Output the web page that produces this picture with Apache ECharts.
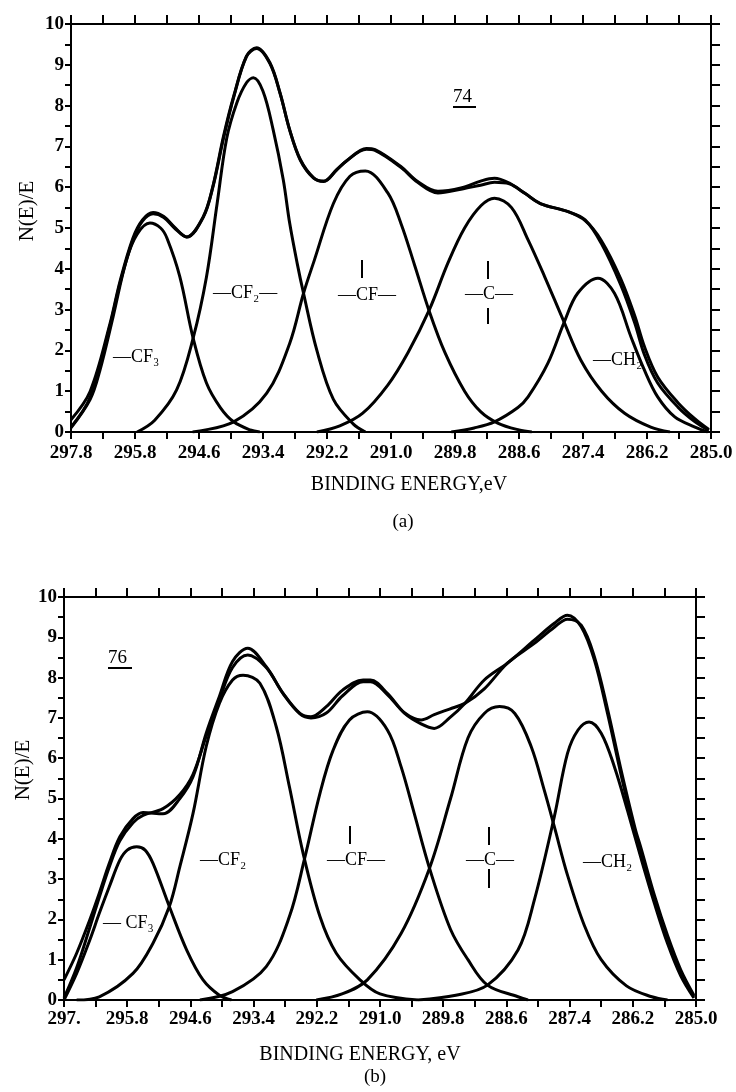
<!DOCTYPE html>
<html>
<head>
<meta charset="utf-8">
<script src="https://cdn.jsdelivr.net/npm/echarts@6/dist/echarts.min.js"></script>
<style>
html, body { margin: 0; padding: 0; background: #fff; }
#chart { width: 736px; height: 1092px; }
</style>
</head>
<body>
<div id="chart"></div>
<script>
// energy axis: tick positions (eV) and the labels printed under them
var tickEnergies = [297.0, 295.8, 294.6, 293.4, 292.2, 291.0, 289.8, 288.6, 287.4, 286.2, 285.0];
var tickLabelsA = ['297.8', '295.8', '294.6', '293.4', '292.2', '291.0', '289.8', '288.6', '287.4', '286.2', '285.0'];
var tickLabelsB = ['297.', '295.8', '294.6', '293.4', '292.2', '291.0', '289.8', '288.6', '287.4', '286.2', '285.0'];

// (a) sample 74 : [binding energy eV, N(E)/E]
var measuredA = [[297.0,0.3],[296.64,1.0],[296.27,2.65],[296.08,3.7],[295.84,4.75],[295.66,5.2],[295.46,5.38],[295.26,5.28],[295.06,5.02],[294.83,4.78],[294.52,5.28],[294.34,6.02],[294.14,7.25],[293.95,8.23],[293.71,9.21],[293.52,9.42],[293.27,9.05],[293.08,8.31],[292.90,7.41],[292.70,6.68],[292.45,6.23],[292.26,6.15],[292.02,6.43],[291.83,6.65],[291.46,6.95],[291.30,6.92],[290.81,6.5],[290.50,6.14],[290.12,5.9],[289.69,5.98],[289.32,6.15],[289.06,6.22],[288.78,6.1],[288.49,5.85],[288.20,5.6],[287.68,5.4],[287.36,5.2],[287.06,4.63],[286.69,3.6],[286.43,2.67],[286.25,1.9],[286.00,1.2],[285.62,0.61],[285.30,0.25],[285.04,0.04]];
var fitA = [[297.0,0.12],[296.64,0.85],[296.27,2.6],[296.08,3.65],[295.84,4.7],[295.66,5.17],[295.46,5.35],[295.26,5.26],[295.06,5.0],[294.83,4.78],[294.52,5.26],[294.34,6.0],[294.14,7.2],[293.95,8.2],[293.71,9.2],[293.52,9.4],[293.27,9.03],[293.08,8.3],[292.90,7.4],[292.70,6.66],[292.45,6.22],[292.26,6.14],[292.02,6.42],[291.83,6.65],[291.46,6.93],[291.30,6.9],[290.81,6.48],[290.50,6.12],[290.12,5.86],[289.69,5.95],[289.32,6.05],[289.06,6.12],[288.78,6.08],[288.49,5.85],[288.20,5.6],[287.68,5.4],[287.36,5.18],[287.06,4.7],[286.69,3.75],[286.43,2.85],[286.25,2.1],[286.00,1.35],[285.62,0.72],[285.30,0.32],[285.04,0.06]];
var cf3A = [[297.0,0.1],[296.64,0.8],[296.46,1.5],[296.21,2.83],[295.96,4.22],[295.76,4.85],[295.52,5.12],[295.32,5.0],[295.2,4.75],[294.96,3.81],[294.71,2.3],[294.46,1.2],[294.20,0.6],[293.95,0.25],[293.64,0.05],[293.46,0]];
var cf2A = [[295.76,0],[295.43,0.29],[295.02,1.03],[294.71,2.3],[294.46,3.8],[294.26,5.6],[294.08,7.2],[293.89,8.07],[293.71,8.56],[293.58,8.68],[293.4,8.35],[293.21,7.41],[293.02,6.18],[292.90,5.12],[292.76,4.14],[292.64,3.4],[292.39,2.0],[292.08,0.8],[291.71,0.2],[291.48,0]];
var cfA = [[294.72,0],[293.95,0.25],[293.33,0.95],[292.90,2.17],[292.64,3.4],[292.44,4.2],[292.08,5.6],[291.77,6.27],[291.48,6.4],[291.06,5.86],[290.81,5.1],[290.56,4.1],[290.28,2.95],[289.99,1.95],[289.62,1.0],[289.32,0.5],[289.0,0.22],[288.6,0.05],[288.36,0]];
var cA = [[292.39,0],[291.96,0.15],[291.53,0.46],[291.06,1.15],[290.68,1.95],[290.28,3.0],[289.93,4.15],[289.62,5.0],[289.31,5.55],[289.06,5.73],[288.74,5.5],[288.43,4.71],[288.12,3.81],[287.77,2.74],[287.44,1.76],[287.05,1.0],[286.62,0.46],[286.13,0.12],[285.77,0]];
var ch2A = [[289.87,0],[289.44,0.1],[289.06,0.25],[288.62,0.6],[288.43,0.86],[288.06,1.68],[287.75,2.7],[287.50,3.4],[287.12,3.77],[286.81,3.4],[286.5,2.33],[286.25,1.52],[286.0,0.86],[285.68,0.37],[285.3,0.12],[285.06,0]];

// (b) sample 76
var measuredB = [[297.0,0.5],[296.76,1.16],[296.51,1.99],[296.33,2.65],[296.14,3.39],[295.94,4.05],[295.69,4.5],[295.5,4.65],[295.12,4.62],[294.80,5.0],[294.55,5.54],[294.3,6.62],[294.05,7.53],[293.8,8.4],[293.51,8.73],[293.16,8.27],[292.84,7.61],[292.52,7.11],[292.31,7.03],[292.02,7.28],[291.71,7.69],[291.32,7.94],[291.18,7.94],[290.86,7.61],[290.53,7.11],[290.22,6.85],[289.97,6.74],[289.68,7.0],[289.39,7.36],[289.02,7.94],[288.58,8.36],[288.07,8.93],[287.69,9.35],[287.44,9.55],[287.18,9.26],[286.93,8.44],[286.68,7.11],[286.43,5.63],[286.16,4.14],[286.04,3.64],[285.79,2.48],[285.54,1.49],[285.29,0.66],[285.04,0.08]];
var fitB = [[297.0,0.05],[296.76,0.8],[296.51,1.8],[296.33,2.55],[296.14,3.3],[295.94,3.95],[295.69,4.4],[295.5,4.58],[295.12,4.75],[294.80,5.1],[294.55,5.6],[294.3,6.55],[294.05,7.45],[293.8,8.25],[293.51,8.56],[293.16,8.25],[292.84,7.6],[292.52,7.1],[292.31,7.0],[292.02,7.12],[291.71,7.55],[291.32,7.9],[291.18,7.9],[290.86,7.58],[290.53,7.12],[290.22,6.95],[289.97,7.08],[289.68,7.22],[289.39,7.36],[289.02,7.72],[288.58,8.36],[288.07,8.85],[287.69,9.25],[287.44,9.45],[287.18,9.3],[286.93,8.52],[286.68,7.22],[286.43,5.75],[286.16,4.28],[286.04,3.75],[285.79,2.6],[285.54,1.6],[285.29,0.75],[285.04,0.12]];
var cf3B = [[297.0,0],[296.76,0.66],[296.51,1.49],[296.33,2.15],[296.14,2.81],[295.94,3.47],[295.8,3.72],[295.62,3.8],[295.46,3.72],[295.31,3.39],[295.0,2.32],[294.67,1.24],[294.36,0.5],[294.05,0.12],[293.82,0]];
var cf2B = [[296.76,0],[296.33,0.08],[295.69,0.66],[295.31,1.41],[295.0,2.32],[294.80,3.31],[294.55,4.63],[294.3,6.29],[294.05,7.36],[293.8,7.94],[293.6,8.06],[293.28,7.86],[292.97,6.78],[292.72,5.29],[292.46,3.64],[292.14,2.07],[291.83,1.16],[291.38,0.5],[291.0,0.15],[290.28,0]];
var cfB = [[294.42,0],[293.8,0.21],[293.16,0.83],[292.72,2.07],[292.43,3.52],[292.14,5.13],[291.89,6.2],[291.58,6.95],[291.24,7.15],[290.86,6.7],[290.60,5.79],[290.35,4.63],[290.06,3.27],[289.66,1.75],[289.33,1.0],[288.96,0.37],[288.38,0.08],[288.19,0]];
var cB = [[292.21,0],[291.72,0.15],[291.24,0.5],[290.60,1.65],[290.06,3.27],[289.66,5.0],[289.33,6.5],[289.02,7.11],[288.73,7.28],[288.44,7.11],[288.13,6.29],[287.88,5.2],[287.69,4.3],[287.44,3.1],[287.12,1.85],[286.8,1.0],[286.32,0.35],[285.84,0.08],[285.54,0]];
var ch2B = [[290.28,0],[289.56,0.12],[288.96,0.37],[288.38,1.24],[288.07,2.48],[287.69,4.55],[287.44,6.12],[287.24,6.7],[287.03,6.9],[286.8,6.62],[286.55,5.79],[286.30,4.7],[286.04,3.5],[285.79,2.4],[285.54,1.4],[285.29,0.6],[285.04,0.05]];

var chart = echarts.init(document.getElementById('chart'));
var FONT = '"Liberation Serif", "DejaVu Serif", serif';

// every tick on the energy axis: the labelled ones plus the midpoints
var allTicks = [];
for (var i = 0; i < tickEnergies.length; i++) {
    allTicks.push(tickEnergies[i]);
    if (i < tickEnergies.length - 1) allTicks.push((tickEnergies[i] + tickEnergies[i + 1]) / 2);
}

function labelFor(labels) {
    return function (v) {
        for (var k = 0; k < tickEnergies.length; k++) {
            if (Math.abs(tickEnergies[k] - v) < 1e-6) return labels[k];
        }
        return '';
    };
}

function energyAxis(grid, pos, labels, tickLen, margin) {
    return {
        gridIndex: grid, type: 'value', position: pos,
        min: 285, max: 297, inverse: true,
        axisLine: { show: true, onZero: false, lineStyle: { color: '#000', width: 2 } },
        axisTick: { show: true, inside: false, customValues: allTicks, length: tickLen, lineStyle: { color: '#000', width: 2 } },
        axisLabel: labels ? {
            customValues: tickEnergies, formatter: labelFor(labels),
            color: '#000', fontFamily: FONT, fontSize: 19, fontWeight: 'bold', margin: margin
        } : { show: false },
        splitLine: { show: false }
    };
}

function countAxis(grid, pos, showLabels, tickLen) {
    return {
        gridIndex: grid, type: 'value', position: pos,
        min: 0, max: 10, interval: 0.5,
        axisLine: { show: true, onZero: false, lineStyle: { color: '#000', width: 2 } },
        axisTick: { show: true, inside: false, length: tickLen, lineStyle: { color: '#000', width: 2 } },
        axisLabel: showLabels ? {
            formatter: function (v) { return v % 1 === 0 ? String(v) : ''; },
            color: '#000', fontFamily: FONT, fontSize: 19, fontWeight: 'bold', margin: 7
        } : { show: false },
        splitLine: { show: false }
    };
}

function curve(data, xi, yi) {
    return {
        type: 'line', data: data, xAxisIndex: xi, yAxisIndex: yi,
        smooth: 0.35, showSymbol: false, silent: true,
        lineStyle: { color: '#000', width: 3 }
    };
}

function txt(x, y, s, size, align) {
    return {
        type: 'text', x: x, y: y, silent: true,
        style: {
            text: s, fill: '#000', font: (size || 18) + 'px ' + FONT,
            textAlign: align || 'left', textVerticalAlign: 'middle',
            align: align || 'left', verticalAlign: 'middle'
        }
    };
}

function bar(x1, y1, x2, y2) {
    return { type: 'line', silent: true, shape: { x1: x1, y1: y1, x2: x2, y2: y2 }, style: { stroke: '#000', lineWidth: 2 } };
}

var option = {
    backgroundColor: '#fff',
    animation: false,
    grid: [
        { left: 71, top: 24, width: 640, height: 408 },
        { left: 64, top: 597, width: 632, height: 403 }
    ],
    xAxis: [
        energyAxis(0, 'bottom', tickLabelsA, 7, 12),
        energyAxis(0, 'top', null, 9),
        energyAxis(1, 'bottom', tickLabelsB, 7, 10),
        energyAxis(1, 'top', null, 9)
    ],
    yAxis: [
        countAxis(0, 'left', true, 6),
        countAxis(0, 'right', false, 9),
        countAxis(1, 'left', true, 6),
        countAxis(1, 'right', false, 9)
    ],
    series: [
        curve(measuredA, 0, 0), curve(fitA, 0, 0),
        curve(cf3A, 0, 0), curve(cf2A, 0, 0), curve(cfA, 0, 0), curve(cA, 0, 0), curve(ch2A, 0, 0),
        curve(measuredB, 2, 2), curve(fitB, 2, 2),
        curve(cf3B, 2, 2), curve(cf2B, 2, 2), curve(cfB, 2, 2), curve(cB, 2, 2), curve(ch2B, 2, 2)
    ],
    graphic: [
        // panel (a)
        { type: 'text', x: 27, y: 211, rotation: Math.PI / 2, silent: true,
          style: { text: 'N(E)/E', fill: '#000', font: '21px ' + FONT, textAlign: 'center', textVerticalAlign: 'middle', align: 'center', verticalAlign: 'middle' } },
        txt(409, 485, 'BINDING ENERGY,eV', 20, 'center'),
        txt(403, 522, '(a)', 19, 'center'),
        txt(453, 97, '74', 19),
        bar(453, 107, 476, 107),
        txt(113, 357, '—CF₃'),
        txt(213, 293, '—CF₂—'),
        txt(338, 295, '—CF—'),
        bar(362, 260, 362, 278),
        txt(465, 294, '—C—'),
        bar(488, 261, 488, 279), bar(488, 308, 488, 324),
        txt(593, 360, '—CH₂'),
        // panel (b)
        { type: 'text', x: 23, y: 770, rotation: Math.PI / 2, silent: true,
          style: { text: 'N(E)/E', fill: '#000', font: '21px ' + FONT, textAlign: 'center', textVerticalAlign: 'middle', align: 'center', verticalAlign: 'middle' } },
        txt(360, 1055, 'BINDING ENERGY, eV', 20, 'center'),
        txt(375, 1077, '(b)', 19, 'center'),
        txt(108, 658, '76', 19),
        bar(108, 668, 132, 668),
        txt(103, 923, '— CF₃'),
        txt(200, 860, '—CF₂'),
        txt(327, 860, '—CF—'),
        bar(350, 826, 350, 844),
        txt(466, 860, '—C—'),
        bar(489, 827, 489, 845), bar(489, 869, 489, 888),
        txt(583, 862, '—CH₂')
    ]
};

chart.setOption(option);
</script>
</body>
</html>
